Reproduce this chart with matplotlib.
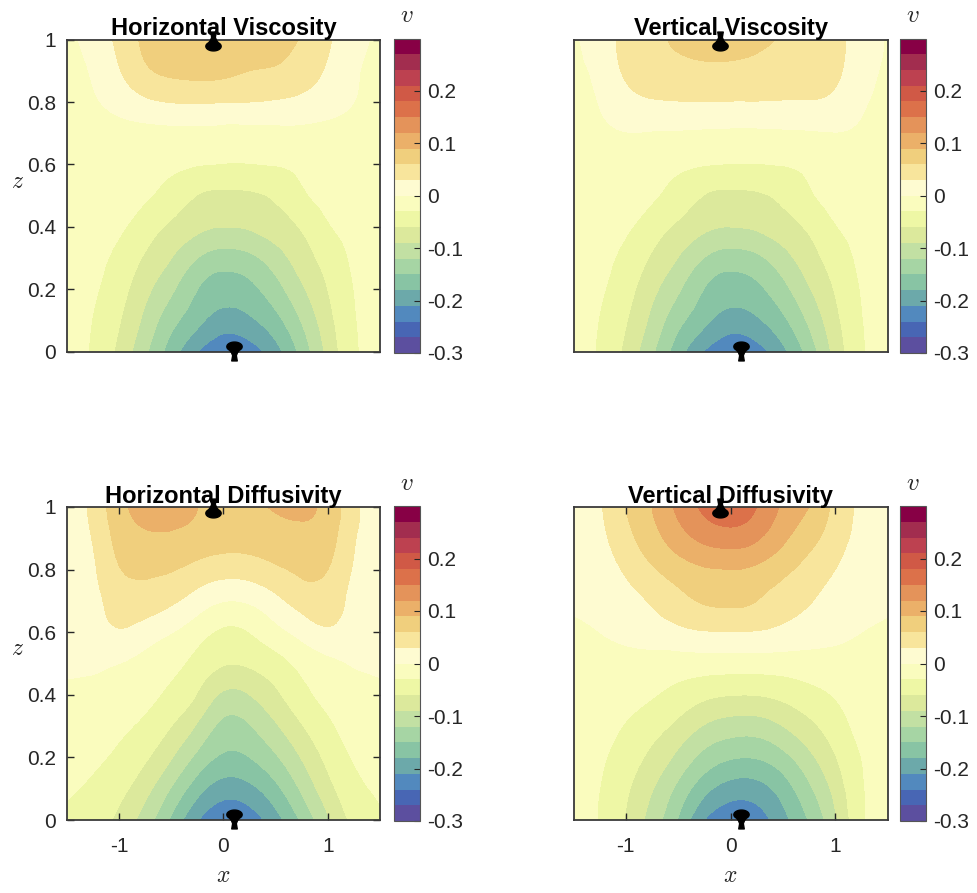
import numpy as np
import matplotlib
matplotlib.use('Agg')
import matplotlib.pyplot as plt
import matplotlib.tri as mtri
from matplotlib.colors import ListedColormap
from matplotlib.path import Path

plt.rcParams['font.family'] = ['Liberation Sans', 'DejaVu Sans']
plt.rcParams['mathtext.fontset'] = 'cm'
plt.rcParams['axes.unicode_minus'] = False

# grid the fields were read on (rows: z = 0 ... 1, cols: x = -1.5 ... 1.5)
x = np.arange(-1.5, 1.51, 0.25)
z = np.arange(0, 1.01, 0.1)

titles = ['Horizontal Viscosity', 'Vertical Viscosity',
          'Horizontal Diffusivity', 'Vertical Diffusivity']

hor_visc = np.array([
    [-0.018, -0.034, -0.068, -0.115, -0.165, -0.210, -0.234, -0.226, -0.192, -0.140, -0.082, -0.036, -0.018],
    [-0.018, -0.031, -0.058, -0.098, -0.140, -0.172, -0.194, -0.186, -0.160, -0.118, -0.071, -0.033, -0.018],
    [-0.018, -0.027, -0.048, -0.082, -0.115, -0.150, -0.165, -0.158, -0.132, -0.095, -0.060, -0.030, -0.017],
    [-0.017, -0.023, -0.038, -0.064, -0.090, -0.120, -0.135, -0.128, -0.104, -0.075, -0.048, -0.026, -0.017],
    [-0.015, -0.019, -0.026, -0.045, -0.066, -0.083, -0.090, -0.087, -0.075, -0.057, -0.033, -0.022, -0.016],
    [-0.014, -0.016, -0.019, -0.027, -0.042, -0.061, -0.066, -0.065, -0.055, -0.035, -0.023, -0.018, -0.014],
    [-0.014, -0.016, -0.018, -0.021, -0.025, -0.029, -0.031, -0.031, -0.029, -0.025, -0.020, -0.016, -0.014],
    [-0.012, -0.011, -0.010, -0.009, -0.008, -0.008, -0.009, -0.009, -0.008, -0.008, -0.009, -0.010, -0.012],
    [-0.010, -0.003, 0.010, 0.024, 0.031, 0.032, 0.031, 0.030, 0.027, 0.022, 0.012, 0.000, -0.010],
    [-0.008, 0.003, 0.028, 0.055, 0.066, 0.069, 0.067, 0.060, 0.057, 0.045, 0.026, 0.004, -0.008],
    [-0.005, 0.010, 0.038, 0.066, 0.080, 0.086, 0.085, 0.080, 0.070, 0.058, 0.034, 0.010, -0.005],
])

ver_visc = np.array([
    [-0.018, -0.034, -0.068, -0.115, -0.167, -0.212, -0.234, -0.224, -0.188, -0.138, -0.080, -0.035, -0.018],
    [-0.018, -0.031, -0.058, -0.098, -0.141, -0.173, -0.194, -0.185, -0.157, -0.115, -0.069, -0.032, -0.018],
    [-0.018, -0.027, -0.048, -0.082, -0.116, -0.151, -0.165, -0.157, -0.130, -0.093, -0.058, -0.029, -0.017],
    [-0.017, -0.023, -0.038, -0.064, -0.091, -0.121, -0.135, -0.127, -0.102, -0.073, -0.046, -0.025, -0.017],
    [-0.015, -0.019, -0.026, -0.045, -0.066, -0.084, -0.090, -0.086, -0.073, -0.055, -0.032, -0.021, -0.016],
    [-0.014, -0.016, -0.019, -0.027, -0.042, -0.061, -0.066, -0.064, -0.053, -0.034, -0.022, -0.017, -0.014],
    [-0.014, -0.016, -0.018, -0.021, -0.025, -0.029, -0.031, -0.031, -0.029, -0.025, -0.020, -0.016, -0.014],
    [-0.010, -0.006, -0.001, -0.002, -0.003, -0.004, -0.005, -0.005, -0.004, -0.003, -0.001, -0.005, -0.010],
    [-0.007, 0.001, 0.018, 0.027, 0.029, 0.029, 0.029, 0.029, 0.028, 0.028, 0.022, 0.004, -0.006],
    [-0.004, 0.008, 0.035, 0.049, 0.053, 0.055, 0.055, 0.053, 0.050, 0.047, 0.036, 0.012, -0.004],
    [-0.002, 0.012, 0.040, 0.055, 0.063, 0.068, 0.068, 0.064, 0.058, 0.050, 0.038, 0.015, -0.002],
])

hor_diff = np.array([
    [-0.034, -0.045, -0.068, -0.105, -0.155, -0.208, -0.234, -0.226, -0.192, -0.145, -0.095, -0.052, -0.034],
    [-0.027, -0.035, -0.051, -0.080, -0.122, -0.168, -0.195, -0.188, -0.158, -0.115, -0.071, -0.039, -0.027],
    [-0.018, -0.025, -0.036, -0.056, -0.088, -0.128, -0.155, -0.150, -0.124, -0.088, -0.052, -0.028, -0.018],
    [-0.011, -0.015, -0.024, -0.037, -0.060, -0.094, -0.128, -0.122, -0.094, -0.062, -0.036, -0.018, -0.011],
    [-0.004, -0.006, -0.012, -0.022, -0.037, -0.062, -0.095, -0.090, -0.066, -0.039, -0.022, -0.009, -0.004],
    [0.004, 0.004, 0.000, -0.010, -0.022, -0.040, -0.058, -0.056, -0.042, -0.022, -0.008, 0.002, 0.004],
    [0.010, 0.016, 0.027, 0.016, 0.001, -0.018, -0.035, -0.030, -0.010, 0.010, 0.025, 0.016, 0.010],
    [0.012, 0.022, 0.042, 0.046, 0.035, 0.016, 0.001, 0.004, 0.022, 0.042, 0.044, 0.022, 0.012],
    [0.012, 0.026, 0.058, 0.066, 0.062, 0.050, 0.042, 0.044, 0.055, 0.066, 0.060, 0.027, 0.012],
    [0.012, 0.032, 0.070, 0.085, 0.085, 0.078, 0.072, 0.072, 0.078, 0.083, 0.072, 0.033, 0.012],
    [0.012, 0.038, 0.080, 0.100, 0.105, 0.090, 0.085, 0.084, 0.093, 0.095, 0.080, 0.038, 0.012],
])

ver_diff = np.array([
    [-0.018, -0.032, -0.062, -0.103, -0.152, -0.210, -0.232, -0.225, -0.190, -0.148, -0.096, -0.036, -0.020],
    [-0.018, -0.030, -0.055, -0.088, -0.128, -0.170, -0.193, -0.192, -0.166, -0.126, -0.080, -0.034, -0.019],
    [-0.016, -0.026, -0.044, -0.068, -0.098, -0.130, -0.147, -0.148, -0.130, -0.098, -0.062, -0.030, -0.017],
    [-0.014, -0.020, -0.032, -0.048, -0.068, -0.092, -0.104, -0.105, -0.090, -0.068, -0.044, -0.022, -0.015],
    [-0.011, -0.014, -0.020, -0.028, -0.040, -0.053, -0.059, -0.059, -0.052, -0.040, -0.028, -0.016, -0.012],
    [-0.007, -0.009, -0.010, -0.012, -0.014, -0.015, -0.016, -0.016, -0.015, -0.013, -0.011, -0.009, -0.008],
    [-0.003, 0.000, 0.008, 0.015, 0.022, 0.028, 0.029, 0.028, 0.022, 0.014, 0.007, 0.000, -0.003],
    [0.002, 0.008, 0.020, 0.033, 0.050, 0.063, 0.066, 0.060, 0.045, 0.032, 0.018, 0.008, 0.002],
    [0.005, 0.015, 0.034, 0.056, 0.075, 0.087, 0.090, 0.084, 0.068, 0.049, 0.030, 0.013, 0.004],
    [0.008, 0.022, 0.050, 0.078, 0.106, 0.128, 0.136, 0.124, 0.096, 0.070, 0.044, 0.020, 0.008],
    [0.012, 0.027, 0.060, 0.090, 0.127, 0.156, 0.167, 0.150, 0.115, 0.090, 0.052, 0.024, 0.010],
])

fields = [hor_visc, ver_visc, hor_diff, ver_diff]

# 20 bands from -0.3 to 0.3, colours picked off the reference colour bar
band_colors = ['#5c4f9f', '#4866b4', '#5289be', '#6ca9aa', '#88c4a4',
               '#a6d5a4', '#c2e0a3', '#dce99c', '#eef7a5', '#fafcbe',
               '#fefbd1', '#f8e59c', '#f0cf7d', '#ebb069', '#e4935a',
               '#dc714a', '#d05946', '#bd4150', '#a22d4f', '#870045']
levels = np.linspace(-0.3, 0.3, 21)
cbar_ticks = [-0.3, -0.2, -0.1, 0, 0.1, 0.2]
cbar_labels = ['-0.3', '-0.2', '-0.1', '0', '0.1', '0.2']
x_ticks = [-1, 0, 1]
z_ticks = [0, 0.2, 0.4, 0.6, 0.8, 1]
z_labels = ['0', '0.2', '0.4', '0.6', '0.8', '1']

top_marker_x = -0.1
bottom_marker_x = 0.1

cmap = ListedColormap(band_colors)

# bell shaped marker: cap on one side of the axis line, short stem on the other
a = np.radians(np.linspace(-50, 230, 30))
cap = np.column_stack([0.5 * np.cos(a), 0.38 + 0.3 * np.sin(a)])
stem = np.array([[-0.2, 0.0], [-0.12, -0.2], [-0.18, -0.55],
                 [0.18, -0.55], [0.12, -0.2], [0.2, 0.0]])
verts = np.vstack([cap, stem, cap[:1]])
bottom_mark = Path(verts, closed=True)
top_mark = Path(verts * [1, -1], closed=True)

W, H = 977, 893
fig = plt.figure(figsize=(W / 100, H / 100), dpi=100)


def px_axes(l, t, r, b):
    return fig.add_axes([l / W, 1 - b / H, (r - l) / W, (b - t) / H])


ax_boxes = [(67, 39.5, 380, 352), (573.5, 39.5, 887.5, 352),
            (67, 507, 380, 820), (573.5, 507, 887.5, 820)]
cb_boxes = [(393.5, 38.5, 420, 353), (899.5, 38.5, 926, 353),
            (393.5, 506, 420, 821), (899.5, 506, 926, 821)]

X, Z = np.meshgrid(x, z)
tri = mtri.Triangulation(X.ravel(), Z.ravel())
refiner = mtri.UniformTriRefiner(tri)
dark = '#262626'

for i, (name, V) in enumerate(zip(titles, fields)):
    ax = px_axes(*ax_boxes[i])
    tri_f, v_f = refiner.refine_field(V.ravel(), subdiv=3)
    cs = ax.tricontourf(tri_f, v_f, levels=levels, cmap=cmap,
                        vmin=-0.3, vmax=0.3)
    ax.set_xlim(-1.5, 1.5)
    ax.set_ylim(0, 1)

    ax.plot(top_marker_x, 1, marker=top_mark, ms=15, color='black',
            clip_on=False, zorder=5, ls='none')
    ax.plot(bottom_marker_x, 0, marker=bottom_mark, ms=15, color='black',
            clip_on=False, zorder=5, ls='none')

    for s in ax.spines.values():
        s.set_linewidth(1.3)
        s.set_color('#3a3a3a')
    ax.tick_params(direction='in', length=5, width=1, top=True, right=True,
                   labelsize=15, colors=dark)
    ax.tick_params(axis='x', pad=12)
    ax.tick_params(axis='y', pad=8)

    if i < 2:
        ax.set_xticks([])
    else:
        ax.set_xticks(x_ticks)
        ax.set_xticklabels([str(v) for v in x_ticks])
        ax.set_xlabel('$x$', fontsize=17, color=dark, va='center')
        ax.xaxis.set_label_coords(0.5, -0.18)
    if i % 2 == 1:
        ax.set_yticks([])
    else:
        ax.set_yticks(z_ticks)
        ax.set_yticklabels(z_labels)
        ax.set_ylabel('$z$', fontsize=17, rotation=0, va='center', ha='center', color=dark)
        ax.yaxis.set_label_coords(-0.157, 0.545)

    ax.set_title(name, fontsize=17, fontweight='bold', pad=3)

    cax = px_axes(*cb_boxes[i])
    cb = fig.colorbar(cs, cax=cax, ticks=cbar_ticks)
    cb.ax.set_yticklabels(cbar_labels)
    cb.ax.tick_params(direction='in', length=4, width=0.8, labelsize=15,
                      colors=dark, pad=5)
    cb.outline.set_linewidth(0.8)
    cb.outline.set_edgecolor('#555555')
    l, tp, r, b = cb_boxes[i]
    fig.text((l + r) / 2 / W, 1 - (tp - 23) / H, '$v$', fontsize=18,
             ha='center', va='center', color=dark)

fig.savefig('out.png', dpi=100, facecolor='white')
